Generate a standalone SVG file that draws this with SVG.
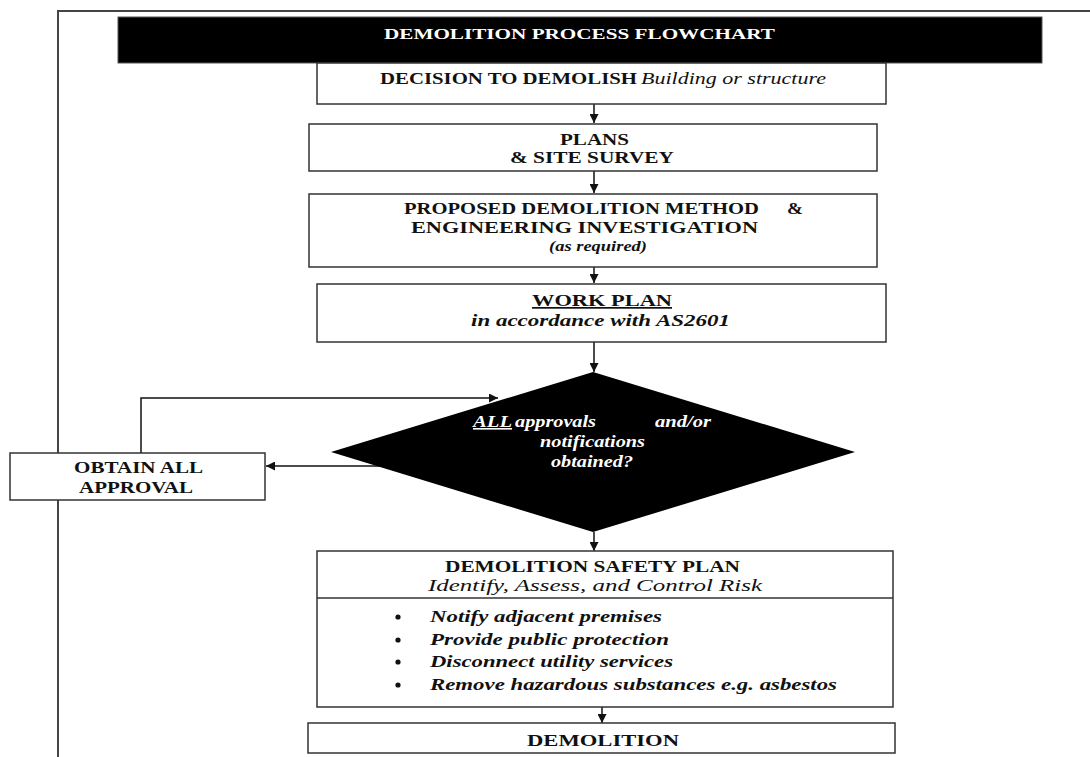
<svg xmlns="http://www.w3.org/2000/svg" width="1090" height="757" viewBox="0 0 1090 757">
<style>
.box{fill:#fff;stroke:#333;stroke-width:1.5}
.frame{fill:none;stroke:#444;stroke-width:2}
.con{fill:none;stroke:#111;stroke-width:1.5}
.t{font-family:"Liberation Serif","Times New Roman",serif;font-size:17px;fill:#111}
.s{font-size:15px}
.d{font-size:16px}
.b{font-weight:bold}
.i{font-style:italic}
.w{fill:#fff}
</style>
<defs>
<marker id="ah" viewBox="0 0 10 10" refX="10" refY="5" markerWidth="9" markerHeight="9" markerUnits="userSpaceOnUse" orient="auto">
<path d="M0,0 L10,5 L0,10 z" fill="#111"/>
</marker>
</defs>
<rect width="1090" height="757" fill="#fff"/>
<g id="frame">
<path class="frame" d="M58,757 L58,11 L1090,11"/>
</g>
<g id="connectors">
<line class="con" x1="594" y1="104" x2="594" y2="123" marker-end="url(#ah)"/>
<line class="con" x1="594" y1="171" x2="594" y2="193" marker-end="url(#ah)"/>
<line class="con" x1="594" y1="267" x2="594" y2="283" marker-end="url(#ah)"/>
<line class="con" x1="594" y1="342" x2="594" y2="372" marker-end="url(#ah)"/>
<line class="con" x1="594" y1="532" x2="594" y2="551" marker-end="url(#ah)"/>
<line class="con" x1="602" y1="707" x2="602" y2="723" marker-end="url(#ah)"/>
<polyline class="con" points="141,453 141,398 498,398" marker-end="url(#ah)"/>
<line class="con" x1="382" y1="466" x2="266" y2="466" marker-end="url(#ah)"/>
</g>
<g id="title">
<rect x="118" y="17" width="924" height="46" fill="#000" stroke="#555" stroke-width="1"/>
<text class="t b w s" x="384" y="39" textLength="391" lengthAdjust="spacingAndGlyphs">DEMOLITION PROCESS  FLOWCHART</text>
</g>
<g id="decision">
<rect class="box" x="317" y="63" width="569" height="41"/>
<text class="t b" x="380" y="84" textLength="257" lengthAdjust="spacingAndGlyphs">DECISION TO DEMOLISH</text>
<text class="t i" x="641" y="84" textLength="185" lengthAdjust="spacingAndGlyphs">Building or structure</text>
</g>
<g id="plans">
<rect class="box" x="309" y="124" width="568" height="47"/>
<text class="t b" x="560" y="145" textLength="69" lengthAdjust="spacingAndGlyphs">PLANS</text>
<text class="t b" x="510" y="163" textLength="164" lengthAdjust="spacingAndGlyphs">&amp; SITE SURVEY</text>
</g>
<g id="proposed">
<rect class="box" x="309" y="194" width="568" height="73"/>
<text class="t b" x="404" y="214" textLength="355" lengthAdjust="spacingAndGlyphs">PROPOSED DEMOLITION METHOD</text>
<text class="t b" x="787" y="214" textLength="16" lengthAdjust="spacingAndGlyphs">&amp;</text>
<text class="t b" x="411" y="233" textLength="347" lengthAdjust="spacingAndGlyphs">ENGINEERING INVESTIGATION</text>
<text class="t b i s" x="549" y="251" textLength="98" lengthAdjust="spacingAndGlyphs">(as required)</text>
</g>
<g id="workplan">
<rect class="box" x="317" y="284" width="569" height="58"/>
<text class="t b" x="532" y="306" textLength="140" lengthAdjust="spacingAndGlyphs" text-decoration="underline">WORK PLAN</text>
<text class="t b i" x="471" y="326" textLength="259" lengthAdjust="spacingAndGlyphs">in accordance with AS2601</text>
</g>
<g id="approvals">
<polygon points="593,372 855,452 593,532 331,452" fill="#000"/>
<text class="t b i w d" x="473" y="427" textLength="39" lengthAdjust="spacingAndGlyphs" text-decoration="underline">ALL</text>
<text class="t b i w d" x="515" y="427" textLength="81" lengthAdjust="spacingAndGlyphs">approvals</text>
<text class="t b i w d" x="655" y="427" textLength="56" lengthAdjust="spacingAndGlyphs">and/or</text>
<text class="t b i w d" x="540" y="447" textLength="105" lengthAdjust="spacingAndGlyphs">notifications</text>
<text class="t b i w d" x="551" y="467" textLength="82" lengthAdjust="spacingAndGlyphs">obtained?</text>
</g>
<g id="obtain">
<rect class="box" x="10" y="453" width="255" height="47"/>
<text class="t b" x="74" y="473" textLength="129" lengthAdjust="spacingAndGlyphs">OBTAIN ALL</text>
<text class="t b" x="79" y="493" textLength="114" lengthAdjust="spacingAndGlyphs">APPROVAL</text>
</g>
<g id="safety">
<rect class="box" x="317" y="551" width="576" height="156"/>
<line x1="317" y1="598" x2="893" y2="598" stroke="#333" stroke-width="1.5"/>
<text class="t b" x="445" y="572" textLength="295" lengthAdjust="spacingAndGlyphs">DEMOLITION SAFETY PLAN</text>
<text class="t i" x="428" y="591" textLength="334" lengthAdjust="spacingAndGlyphs">Identify, Assess, and Control Risk</text>
<circle cx="398" cy="617" r="2.6" fill="#111"/>
<circle cx="398" cy="640" r="2.6" fill="#111"/>
<circle cx="398" cy="662" r="2.6" fill="#111"/>
<circle cx="398" cy="685" r="2.6" fill="#111"/>
<text class="t b i" x="430" y="622" textLength="232" lengthAdjust="spacingAndGlyphs">Notify adjacent premises</text>
<text class="t b i" x="430" y="645" textLength="239" lengthAdjust="spacingAndGlyphs">Provide public protection</text>
<text class="t b i" x="430" y="667" textLength="243" lengthAdjust="spacingAndGlyphs">Disconnect utility services</text>
<text class="t b i" x="430" y="690" textLength="407" lengthAdjust="spacingAndGlyphs">Remove hazardous substances e.g. asbestos</text>
</g>
<g id="demolition">
<rect class="box" x="308" y="723" width="587" height="30"/>
<text class="t b" x="527" y="746" textLength="152" lengthAdjust="spacingAndGlyphs">DEMOLITION</text>
</g>
</svg>
